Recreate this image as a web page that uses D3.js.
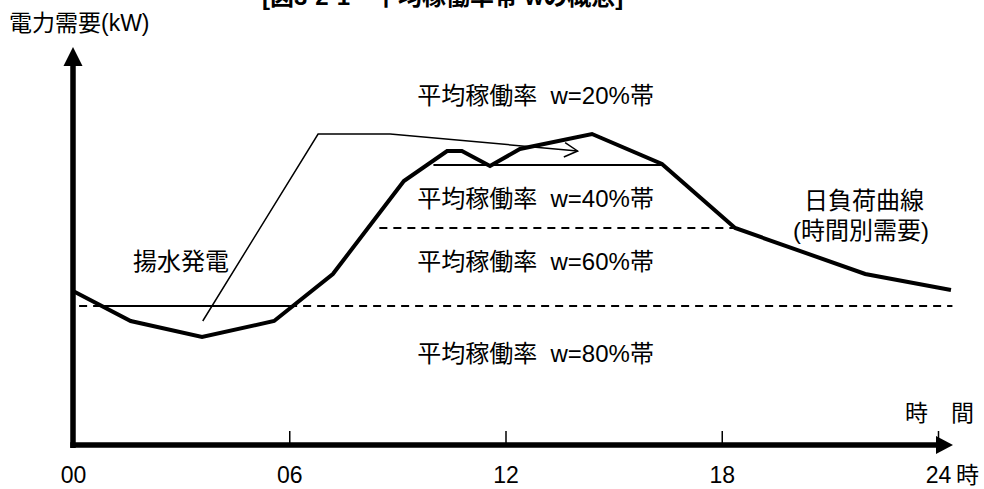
<!DOCTYPE html>
<html>
<head>
<meta charset="utf-8">
<script src="https://cdn.jsdelivr.net/npm/d3@7"></script>
<style>
  html, body { margin: 0; padding: 0; background: #fff; }
  svg { display: block; }
  text { font-family: "Liberation Sans", "Noto Sans CJK JP", sans-serif; fill: #000; }
</style>
</head>
<body>
<svg id="chart" width="984" height="489"></svg>
<script>
// Daily load curve (hour of day, demand in relative kW units)
const hours  = [0, 1.6, 3.58, 5.58, 7.21, 9.18, 10.38, 10.79, 11.57, 12.4, 14.4, 16.34, 18.37, 21.98, 24.36];
const demand = [154, 124, 108, 124, 171, 264, 294, 294, 279, 296, 311, 281, 217, 171, 155];

// Pumped-storage shift: night pumping moved up to the daytime peak
const pumpHours  = [3.6, 6.8, 8.8, 14.0];
const pumpDemand = [124, 311, 311, 294];

// Capacity-factor band boundaries
const bandLevels = [280, 217, 139];
const bandFrom   = [10.0, 8.5, 0.17];
const bandTo     = [16.4, 18.4, 24.4];
const bandDashed = [false, true, true];

// Solid part of the lowest boundary (pumped-storage night range)
const pumpBaseFrom = 0.8;
const pumpBaseTo   = 6.0;

// Band labels
const bandNames  = ["平均稼働率  w=20%帯", "平均稼働率  w=40%帯", "平均稼働率  w=60%帯", "平均稼働率  w=80%帯"];
const bandLabelY = [349, 246, 183, 91];
const bandLabelHour = 9.55;

// Time axis
const tickHours  = [0, 6, 12, 18, 24];
const tickLabels = ["00", "06", "12", "18", "24"];

const svg = d3.select("#chart");
const x = d3.scaleLinear().domain([0, 24]).range([73, 938]);
const y = d3.scaleLinear().domain([0, 400]).range([445, 45]);

// Partially visible figure caption at the top
svg.append("text")
  .attr("x", 262).attr("y", 5)
  .style("font-size", "24px").style("font-weight", "bold")
  .text("[図3-2-1　平均稼働率帯 wの概念]");

// Y-axis title
svg.append("text")
  .attr("x", 9).attr("y", 31)
  .style("font-size", "23px")
  .text("電力需要(kW)");

// Band boundary lines
bandLevels.forEach((lv, i) => {
  svg.append("line")
    .attr("x1", x(bandFrom[i])).attr("x2", x(bandTo[i]))
    .attr("y1", y(lv)).attr("y2", y(lv))
    .attr("stroke", "#000").attr("stroke-width", 2)
    .attr("stroke-dasharray", bandDashed[i] ? "8,6" : null);
});
svg.append("line")
  .attr("x1", x(pumpBaseFrom)).attr("x2", x(pumpBaseTo))
  .attr("y1", y(bandLevels[2])).attr("y2", y(bandLevels[2]))
  .attr("stroke", "#000").attr("stroke-width", 2);

// Pumped-storage arrow
const pumpLine = d3.line().x(d => x(d[0])).y(d => y(d[1]));
const pumpPts = pumpHours.map((h, i) => [h, pumpDemand[i]]);
svg.append("path")
  .attr("d", pumpLine(pumpPts))
  .attr("fill", "none").attr("stroke", "#000").attr("stroke-width", 1.5);
{
  const p1 = pumpPts[pumpPts.length - 2], p2 = pumpPts[pumpPts.length - 1];
  const ex = x(p2[0]), ey = y(p2[1]);
  const ang = Math.atan2(ey - y(p1[1]), ex - x(p1[0]));
  const len = 15, spread = 0.5;
  const a1 = [ex - len * Math.cos(ang - spread), ey - len * Math.sin(ang - spread)];
  const a2 = [ex - len * Math.cos(ang + spread), ey - len * Math.sin(ang + spread)];
  svg.append("path")
    .attr("d", `M${a1[0]},${a1[1]}L${ex},${ey}L${a2[0]},${a2[1]}`)
    .attr("fill", "none").attr("stroke", "#000").attr("stroke-width", 1.5);
}

// Load curve
const loadLine = d3.line().x(d => x(d[0])).y(d => y(d[1]));
svg.append("path")
  .attr("d", loadLine(hours.map((h, i) => [h, demand[i]])))
  .attr("fill", "none").attr("stroke", "#000").attr("stroke-width", 4);

// Band labels
bandNames.forEach((t, i) => {
  svg.append("text")
    .attr("x", x(bandLabelHour)).attr("y", y(bandLabelY[i]))
    .attr("dy", "0.35em")
    .style("font-size", "24px")
    .style("white-space", "pre")
    .text(t);
});

// Annotations
svg.append("text").attr("x", 133).attr("y", 262).attr("dy", "0.35em")
  .style("font-size", "24px").text("揚水発電");
svg.append("text").attr("x", 864).attr("y", 201).attr("dy", "0.35em")
  .attr("text-anchor", "middle").style("font-size", "24px").text("日負荷曲線");
svg.append("text").attr("x", 861).attr("y", 231).attr("dy", "0.35em")
  .attr("text-anchor", "middle").style("font-size", "24px").text("(時間別需要)");

// Axes
const labelPad = 22;
const axisG = svg.append("g").attr("transform", `translate(0,${y(0)})`);
axisG.call(d3.axisBottom(x).tickValues(tickHours)
  .tickFormat((d, i) => tickLabels[i])
  .tickSizeInner(-14).tickSizeOuter(0).tickPadding(labelPad));
axisG.select(".domain").remove();
axisG.selectAll(".tick line").attr("stroke", "#000").attr("stroke-width", 1.5);
axisG.selectAll(".tick text")
  .style("font-family", "'Liberation Sans Narrow', 'Liberation Sans', sans-serif")
  .style("font-size", "23px").attr("fill", "#000");

// Y axis line with filled arrowhead
svg.append("line")
  .attr("x1", x(0)).attr("x2", x(0))
  .attr("y1", y(0) + 3).attr("y2", 62)
  .attr("stroke", "#000").attr("stroke-width", 5.5);
svg.append("path")
  .attr("d", `M${x(0)},47L${x(0) + 9.5},66L${x(0) - 9.5},66Z`)
  .attr("fill", "#000");

// X axis line with filled arrowhead
svg.append("line")
  .attr("x1", x(0) - 2.75).attr("x2", 940)
  .attr("y1", y(0)).attr("y2", y(0))
  .attr("stroke", "#000").attr("stroke-width", 5.5);
svg.append("path")
  .attr("d", `M953,${y(0)}L936,${y(0) - 9}L936,${y(0) + 9}Z`)
  .attr("fill", "#000");

// Axis unit labels
svg.append("text").attr("x", 905).attr("y", 413).attr("dy", "0.35em")
  .style("font-size", "23px").text("時　間");
svg.append("text").attr("x", 956).attr("y", y(0) + labelPad).attr("dy", "0.71em")
  .style("font-size", "23px").text("時");
</script>
</body>
</html>
